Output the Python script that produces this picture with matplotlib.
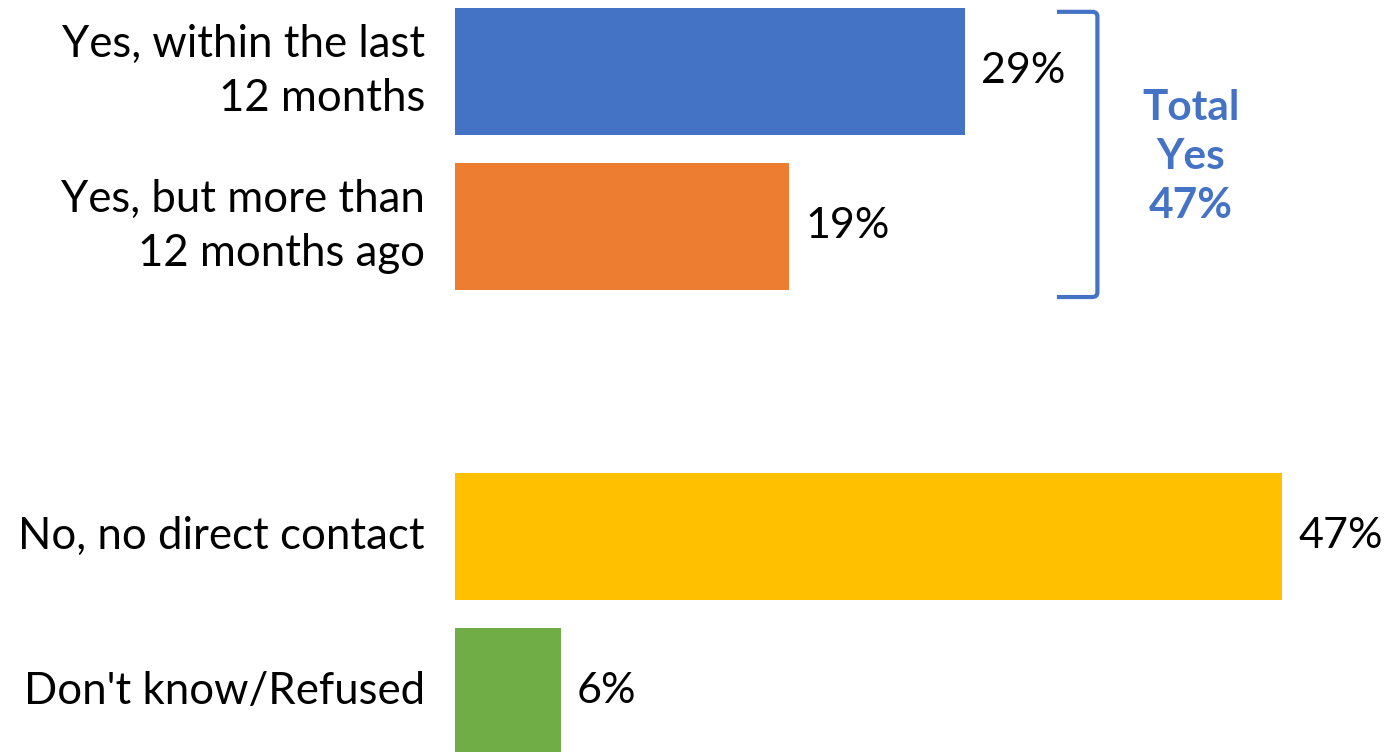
import matplotlib.pyplot as plt
from matplotlib.path import Path
from matplotlib.patches import PathPatch

# data
labels = ["Yes, within the last\n12 months", "Yes, but more than\n12 months ago",
          "No, no direct contact", "Don't know/Refused"]
values = [29, 19, 47, 6]
positions = [0, 1, 3, 4]
colors = ["#4472C4", "#ED7D31", "#FFC000", "#70AD47"]
total_label = "Total\nYes\n47%"

plt.rcParams['font.family'] = ['Lato', 'DejaVu Sans']

fig = plt.figure(figsize=(13.87, 7.52), dpi=100)
ax = fig.add_axes([0, 0, 1, 1])
ax.barh(positions, values, height=0.82, color=colors)

for p, v, lab in zip(positions, values, labels):
    ax.text(v + 0.9, p, "%d%%" % v, va='center', ha='left', fontsize=31)
    ax.text(-1.7, p, lab, va='center', ha='right', fontsize=31.5, linespacing=1.42)

# bracket around the two "yes" bars
blue = "#4472C4"
xr, xl = 36.5, 34.2
yt, yb = -0.385, 1.455
verts = [(xl, yt), (xr - 0.3, yt), (xr, yt), (xr, yt + 0.03),
         (xr, yb - 0.03), (xr, yb), (xr - 0.3, yb), (xl, yb)]
codes = [Path.MOVETO, Path.LINETO, Path.CURVE3, Path.CURVE3,
         Path.LINETO, Path.CURVE3, Path.CURVE3, Path.LINETO]
ax.add_patch(PathPatch(Path(verts, codes), fill=False, edgecolor=blue, lw=3))
ax.text(41.8, 0.55, total_label, color=blue, fontsize=30.5, fontweight='bold',
        ha='center', va='center', linespacing=1.36)

ax.set_xlim(-455 / 17.6, (1387 - 455) / 17.6)
ax.set_ylim((752 - 71.5) / 155, -71.5 / 155)
ax.axis('off')

fig.savefig("out.png", dpi=100)
